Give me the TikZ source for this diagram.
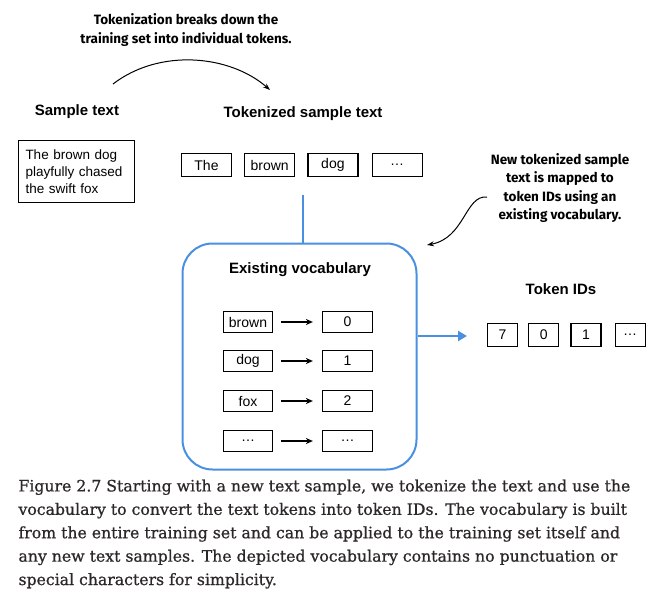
\documentclass[tikz,border=0pt]{standalone}
\usepackage{fontspec}
\setmainfont{DejaVu Serif}
\setsansfont{Liberation Sans}
\newfontfamily\notefont{Fira Sans}
\newfontfamily\captionfont[FakeBold=0.8]{DejaVu Serif}
\usetikzlibrary{arrows.meta}
\usetikzlibrary{positioning}
\definecolor{vocabblue}{RGB}{74,144,226}
\definecolor{captiongray}{RGB}{45,40,40}
\tikzstyle{every node}=[inner sep=0pt]
\tikzstyle{heading}=[font=\sffamily\bfseries\fontsize{15}{17}\selectfont]
\tikzstyle{note}=[align=center,font=\notefont\bfseries\fontsize{13.5}{18.5}\selectfont]
\tikzstyle{token}=[draw=black,line width=1.2pt,minimum height=23pt,minimum width=50pt,font=\sffamily\fontsize{14}{16}\selectfont]
\tikzstyle{tokenid}=[token,minimum width=30pt]
\tikzstyle{vocab}=[token,minimum height=21pt,minimum width=49pt]

\begin{document}
\begin{tikzpicture}[x=1pt,y=-1pt,line width=1pt]
	\useasboundingbox (0,0) rectangle (663,604);
	% annotations
	\node[note] (tokennote) at (186,30) {Tokenization breaks down the\\training set into individual tokens.};
	\node[note] (mapnote) at (560,188) {New tokenized sample\\text is mapped to\\token IDs using an\\existing vocabulary.};
	\coordinate (curvestart) at (113,84);
	\coordinate (curveend) at (270,90);
	\coordinate (mapstart) at (487,197);
	\coordinate (mapend) at (427,245);
	\draw[-{Stealth[length=7pt,width=5pt]}] (curvestart) .. controls (160,48) and (230,55) .. (curveend);
	\draw[-{Stealth[length=7pt,width=5pt]}] (mapstart) .. controls (465,195) and (465,238) .. (mapend);
	% sample text
	\node[heading] (sampletitle) at (77,112) {Sample text};
	\node[draw=black,line width=1.2pt,inner xsep=7pt,minimum height=62pt,text width=102pt,align=left,
		font=\sffamily\fontsize{13.5}{17.2}\selectfont] (sample) at (76.5,171.5) {The brown dog\\playfully chased\\the swift fox};
	% tokenized text
	\node[heading] (tokentitle) at (303,114) {Tokenized sample text};
	\node[token] (tok1) at (206.5,165) {The};
	\node[token,right=12pt of tok1] (tok2) {brown};
	\node[token,right=12pt of tok2] (tok3) {dog};
	\node[token,right=13pt of tok3] (tok4) {\ldots};
	% vocabulary
	\node[draw=vocabblue,line width=2pt,rounded corners=30pt,minimum width=234pt,minimum height=226pt] (vocabbox) at (299.5,356.5) {};
	\node[heading] (vocabtitle) at (300,270) {Existing vocabulary};
	\foreach \word/\id/\y in {brown/0/322,dog/1/361,fox/2/401,\ldots/\ldots/441}{
		\node[vocab] (w\y) at (248,\y) {\word};
		\node[vocab,minimum width=50pt] (i\y) at (347.5,\y) {\id};
		\draw[line width=1.3pt,-{Stealth[length=7pt,width=6pt]}] ([xshift=8pt]w\y.east) -- ([xshift=-9pt]i\y.west);
	}
	\draw[vocabblue,line width=2.8pt] (303,195) -- (vocabbox.north -| 303,0);
	% token IDs
	\node[heading] (idtitle) at (561,289) {Token IDs};
	\node[tokenid] (id1) at (502.5,335) {7};
	\node[tokenid,right=10pt of id1] (id2) {0};
	\node[tokenid,right=11pt of id2] (id3) {1};
	\node[tokenid,right=13pt of id3] (id4) {\ldots};
	\coordinate (idarrow) at (467,336);
	\draw[vocabblue,line width=2.8pt,-{Triangle[length=9pt,width=10pt]}] (vocabbox.east |- idarrow) -- (idarrow);
	% caption
	\node[anchor=north west,align=left,text=captiongray,font=\captionfont\fontsize{15.7}{23.4}\selectfont] (caption) at (18,479)
		{Figure 2.7 Starting with a new text sample, we tokenize the text and use the\\
		vocabulary to convert the text tokens into token IDs. The vocabulary is built\\
		from the entire training set and can be applied to the training set itself and\\
		any new text samples. The depicted vocabulary contains no punctuation or\\
		special characters for simplicity.};
\end{tikzpicture}
\end{document}
